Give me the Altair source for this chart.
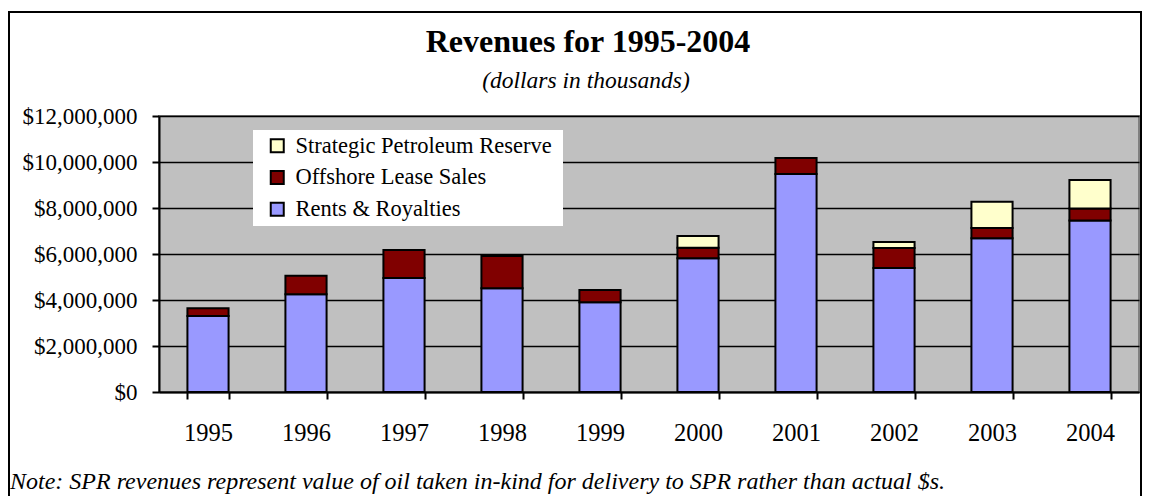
import altair as alt
import pandas as pd

# ---- data (dollars in thousands) ----
YEARS = ["1995", "1996", "1997", "1998", "1999", "2000", "2001", "2002", "2003", "2004"]
RENTS = [3300000, 4250000, 4960000, 4510000, 3900000, 5820000, 9480000, 5390000, 6690000, 7460000]
OFFSHORE = [340000, 800000, 1210000, 1400000, 530000, 450000, 690000, 870000, 440000, 520000]
SPR = [0, 0, 0, 0, 0, 510000, 0, 260000, 1140000, 1240000]
SERIES = ["Strategic Petroleum Reserve", "Offshore Lease Sales", "Rents & Royalties"]
COLORS = ["#FFFFCC", "#800000", "#9999FF"]
Y_TICKS = [0, 2000000, 4000000, 6000000, 8000000, 10000000, 12000000]
TITLE = "Revenues for 1995-2004"
SUBTITLE = "(dollars in thousands)"
NOTE = "Note: SPR revenues represent value of oil taken in-kind for delivery to SPR rather than actual $s."

rows = []
for i, yr in enumerate(YEARS):
    for name, vals, order in [(SERIES[2], RENTS, 0), (SERIES[1], OFFSHORE, 1), (SERIES[0], SPR, 2)]:
        rows.append({"year": yr, "series": name, "value": vals[i], "order": order})
df = pd.DataFrame(rows)

FONT = "Liberation Serif"
W, H = 980, 276

legend_box = alt.Chart(pd.DataFrame({"a": [0]})).mark_rect(fill="white").encode(
    x=alt.value(94), x2=alt.value(404), y=alt.value(14), y2=alt.value(110)
)

bars = alt.Chart(df).transform_filter("datum.value > 0").mark_bar(
    stroke="black", strokeWidth=2
).encode(
    x=alt.X(
        "year:O",
        scale=alt.Scale(paddingInner=0.58, paddingOuter=0.29),
        axis=alt.Axis(
            title=None, tickBand="extent", labelAngle=0, labelFont=FONT,
            labelFontSize=24.5, labelColor="black", labelPadding=22,
            tickSize=7, tickWidth=2, tickColor="black",
            domainColor="black", domainWidth=2, grid=False,
        ),
    ),
    y=alt.Y(
        "value:Q",
        stack="zero",
        scale=alt.Scale(domain=[0, 12000000], nice=False),
        axis=alt.Axis(
            title=None, values=Y_TICKS, format="$,.0f", labelFont=FONT,
            labelFontSize=23, labelColor="black", labelPadding=15,
            tickSize=7, tickWidth=2, tickColor="black",
            domainColor="black", domainWidth=2,
            grid=True, gridColor="black", gridWidth=1.5,
        ),
    ),
    color=alt.Color(
        "series:N",
        scale=alt.Scale(domain=SERIES, range=COLORS),
        legend=alt.Legend(
            title=None, orient="none", legendX=107, legendY=18.5,
            symbolType="square", symbolSize=169, symbolStrokeColor="black",
            symbolStrokeWidth=2, labelFont=FONT, labelFontSize=22.5,
            labelColor="black", labelOffset=7, rowPadding=8.7,
            labelLimit=500, padding=0,
        ),
    ),
    order=alt.Order("order:Q"),
)

title = alt.Chart(pd.DataFrame({"t": [TITLE]})).mark_text(
    font=FONT, fontSize=32, fontWeight="bold", align="center",
    baseline="alphabetic", color="black"
).encode(text="t:N", x=alt.value(429), y=alt.value(-64))

subtitle = alt.Chart(pd.DataFrame({"t": [SUBTITLE]})).mark_text(
    font=FONT, fontSize=23.5, fontStyle="italic", align="center",
    baseline="alphabetic", color="black"
).encode(text="t:N", x=alt.value(427), y=alt.value(-28.5))

note = alt.Chart(pd.DataFrame({"t": [NOTE]})).mark_text(
    font=FONT, fontSize=24, fontStyle="italic", align="left",
    baseline="alphabetic", color="black"
).encode(text="t:N", x=alt.value(-149), y=alt.value(373))

frame = alt.Chart(pd.DataFrame({"a": [0]})).mark_rect(
    fillOpacity=0, stroke="black", strokeWidth=2
).encode(x=alt.value(-150), x2=alt.value(982), y=alt.value(-104), y2=alt.value(420))

chart = alt.layer(legend_box, bars, title, subtitle, note, frame).properties(
    width=W, height=H,
    autosize=alt.AutoSizeParams(type="none"),
    padding={"left": 151, "top": 108, "right": 3, "bottom": 104},
    background="white",
).configure_view(
    fill="#C0C0C0", stroke="#808080", strokeWidth=2
)

chart.save("out.html", embed_options={"renderer": "svg", "actions": False})
